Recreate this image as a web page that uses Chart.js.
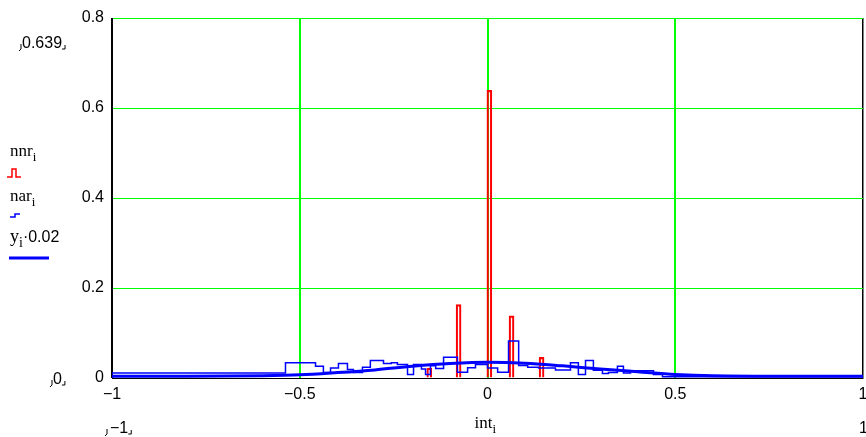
<!DOCTYPE html>
<html>
<head>
<meta charset="utf-8">
<script src="https://cdn.jsdelivr.net/npm/chart.js@4.4.1/dist/chart.umd.min.js"></script>
<style>
  html, body { margin: 0; padding: 0; background: #fff; }
  #plot { display: block; }
</style>
</head>
<body>
<canvas id="plot" width="866" height="437"></canvas>
<script>
// --- données ---
const xTicks = [-1, -0.5, 0, 0.5, 1];
const yTicks = [0, 0.2, 0.4, 0.6, 0.8];

// barres rouges nnr_i
const nnrX = [-0.155, -0.077, 0.005, 0.064, 0.144];
const nnrY = [0.022, 0.163, 0.639, 0.138, 0.046];

// histogramme en escalier nar_i (bords gauches + valeurs)
const narX = [-1, -0.538, -0.458, -0.437, -0.418, -0.397, -0.373, -0.357, -0.333, -0.312,
  -0.277, -0.256, -0.240, -0.213, -0.197, -0.176, -0.165, -0.152, -0.138, -0.117,
  -0.080, -0.053, -0.032, 0, 0.027, 0.056, 0.083, 0.107, 0.136, 0.181,
  0.221, 0.242, 0.261, 0.282, 0.306, 0.322, 0.346, 0.362, 0.381, 0.442,
  0.466, 0.546, 1];
const narY = [0.003, 0.011, 0.034, 0.026, 0.012, 0.022, 0.032, 0.019, 0.012, 0.024,
  0.039, 0.032, 0.034, 0.030, 0.008, 0.030, 0.020, 0.008, 0.027, 0.021,
  0.046, 0.013, 0.023, 0.030, 0.022, 0.013, 0.082, 0.028, 0.024, 0.022,
  0.018, 0.034, 0.008, 0.039, 0.017, 0.010, 0.012, 0.026, 0.011, 0.016,
  0.008, 0.003, 0.003];

// courbe y_i * 0.02
const curveX = [-1, -0.8, -0.6, -0.5, -0.4, -0.3, -0.2, -0.1, 0, 0.1, 0.2, 0.3, 0.4, 0.5, 0.6, 0.8, 1];
const curveY = [0.004, 0.004, 0.005, 0.007, 0.012, 0.018, 0.026, 0.032, 0.035, 0.033, 0.027, 0.020, 0.014, 0.008, 0.005, 0.004, 0.004];

const RED = '#ff0000';
const BLUE = '#0000ff';
const GREEN = '#00ff00';
const SANS = '"Liberation Sans Narrow", "Liberation Sans", Arial, sans-serif';
const SERIF = '"Liberation Serif", "Times New Roman", serif';

const toPoints = (xs, ys) => xs.map((x, i) => ({ x: x, y: ys[i] }));
const fmt = v => (v < 0 ? '\u2212' : '') + String(Math.abs(v));

// petites marques en coin façon Mathcad
function brackets(ctx, x0, x1, yb) {
    ctx.beginPath();
    ctx.moveTo(x0 + 1, yb - 4); ctx.lineTo(x0 + 1, yb + 1); ctx.lineTo(x0 - 1, yb + 3);
    ctx.moveTo(x1 - 2, yb + 1); ctx.lineTo(x1 + 1, yb + 1); ctx.lineTo(x1 + 1, yb - 3);
    ctx.stroke();
}

function sub(ctx, base, s, x, y, size) {
    ctx.font = size + 'px ' + SERIF;
    ctx.fillText(base, x, y);
    const w = ctx.measureText(base).width;
    ctx.font = Math.round(size * 0.75) + 'px ' + SERIF;
    ctx.fillText(s, x + w, y + 5);
    return x + w + ctx.measureText(s).width;
}

const extras = {
    id: 'extras',
    afterDraw(chart) {
        const ctx = chart.ctx;
        const a = chart.chartArea;
        ctx.save();
        ctx.fillStyle = '#000';
        ctx.strokeStyle = '#000';
        ctx.lineWidth = 1;
        ctx.textBaseline = 'alphabetic';
        ctx.textAlign = 'left';

        // limites de l'axe
        ctx.font = '16px ' + SANS;
        ctx.fillText('0.639', 22, 48);
        brackets(ctx, 20, 22 + ctx.measureText('0.639').width + 2, 48);
        ctx.fillText('0', 53, 384);
        brackets(ctx, 51, 53 + ctx.measureText('0').width + 2, 384);
        ctx.fillText('\u22121', 110, 433);
        brackets(ctx, 106, 110 + ctx.measureText('\u22121').width + 2, 433);
        ctx.fillText('1', 859, 433);

        // titre de l'axe x
        sub(ctx, 'int', 'i', a.left + (a.right - a.left) / 2 - 13, 428, 17);

        // légende à gauche
        sub(ctx, 'nnr', 'i', 10, 156, 17);
        sub(ctx, 'nar', 'i', 10, 201, 17);
        const xe = sub(ctx, 'y', 'i', 10, 242, 18);
        ctx.font = '16px ' + SANS;
        ctx.fillText('\u00b70.02', xe, 242);

        ctx.strokeStyle = RED;
        ctx.lineWidth = 1.5;
        ctx.beginPath();
        ctx.moveTo(7, 177); ctx.lineTo(12, 177); ctx.lineTo(12, 169);
        ctx.lineTo(16, 169); ctx.lineTo(16, 177); ctx.lineTo(21, 177);
        ctx.stroke();

        ctx.strokeStyle = BLUE;
        ctx.beginPath();
        ctx.moveTo(10, 217); ctx.lineTo(15, 217); ctx.lineTo(15, 214); ctx.lineTo(20, 214);
        ctx.stroke();

        ctx.lineWidth = 3;
        ctx.beginPath();
        ctx.moveTo(9, 258); ctx.lineTo(49, 258);
        ctx.stroke();
        ctx.restore();
    }
};

new Chart(document.getElementById('plot'), {
    type: 'bar',
    data: {
        datasets: [
            {
                type: 'line',
                label: 'y_i·0.02',
                data: toPoints(curveX, curveY),
                borderColor: BLUE,
                borderWidth: 3,
                pointRadius: 0,
                cubicInterpolationMode: 'monotone',
                fill: false,
                order: 0
            },
            {
                type: 'line',
                label: 'nar_i',
                data: toPoints(narX, narY),
                borderColor: BLUE,
                borderWidth: 1.5,
                pointRadius: 0,
                stepped: 'after',
                fill: false,
                order: 1
            },
            {
                type: 'bar',
                label: 'nnr_i',
                data: toPoints(nnrX, nnrY),
                borderColor: RED,
                borderWidth: 1.5,
                backgroundColor: 'rgba(0,0,0,0)',
                barThickness: 5,
                order: 2
            }
        ]
    },
    options: {
        responsive: false,
        animation: false,
        devicePixelRatio: 1,
        layout: { padding: { top: 18, right: 3, left: 0, bottom: 0 } },
        plugins: { legend: { display: false }, tooltip: { enabled: false } },
        scales: {
            x: {
                type: 'linear',
                min: -1, max: 1,
                offset: false,
                afterBuildTicks: s => { s.ticks = xTicks.map(v => ({ value: v })); },
                afterFit: s => { s.height = 59; s.paddingLeft = 0; s.paddingRight = 0; },
                ticks: {
                    callback: v => fmt(v),
                    color: '#000',
                    font: { family: SANS, size: 16 },
                    padding: 7,
                    maxRotation: 0
                },
                grid: {
                    offset: false,
                    drawTicks: false,
                    color: xTicks.map(v => (Math.abs(v) === 1 ? '#000000' : GREEN)),
                    lineWidth: xTicks.map(v => (Math.abs(v) === 1 ? 1.5 : 2))
                },
                border: { color: '#000', width: 1 }
            },
            y: {
                type: 'linear',
                min: 0, max: 0.8,
                afterBuildTicks: s => { s.ticks = yTicks.map(v => ({ value: v })); },
                afterFit: s => { s.width = 112; s.paddingTop = 0; s.paddingBottom = 0; },
                ticks: {
                    callback: v => String(v),
                    color: '#000',
                    font: { family: SANS, size: 16 },
                    padding: 8
                },
                grid: {
                    drawTicks: false,
                    color: yTicks.map(v => (v === 0 ? '#000000' : GREEN)),
                    lineWidth: 1
                },
                border: { color: '#000', width: 1 }
            }
        }
    },
    plugins: [extras]
});
</script>
</body>
</html>
